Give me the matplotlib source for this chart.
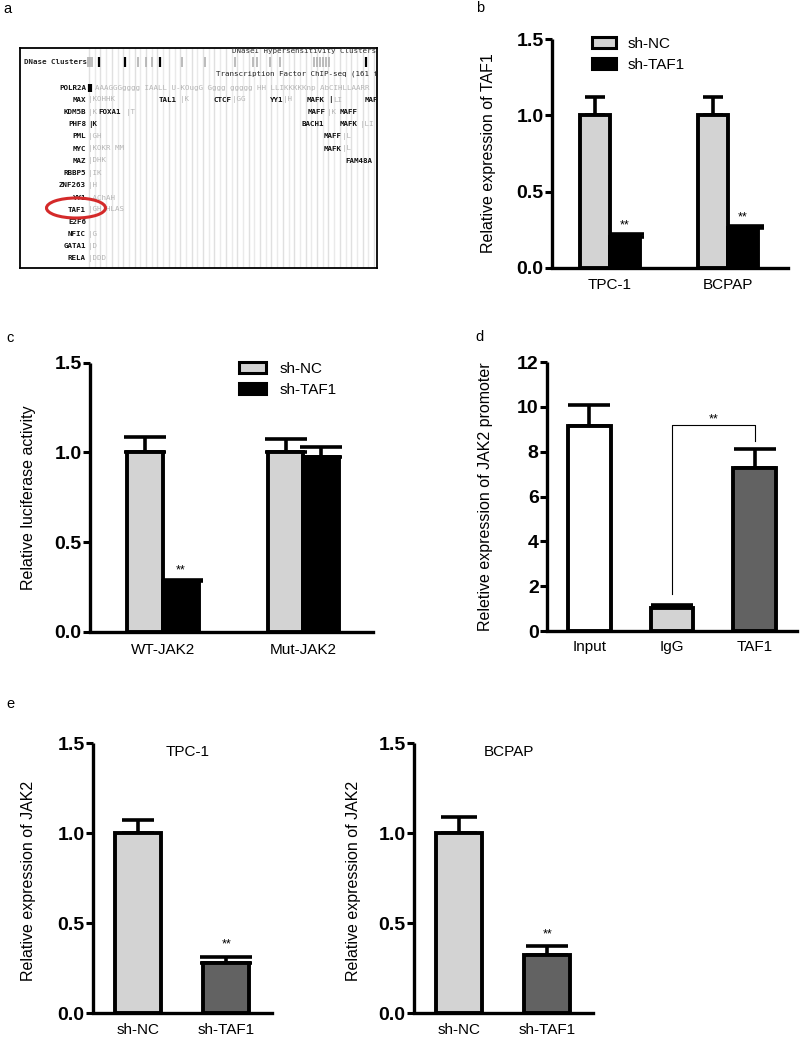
import numpy as np
import matplotlib
matplotlib.use("Agg")
import matplotlib.pyplot as plt
from matplotlib.patches import Ellipse, Patch

plt.rcParams['font.family'] = ['Liberation Sans', 'DejaVu Sans']

W, H = 800, 1038
fig = plt.figure(figsize=(W / 100, H / 100), dpi=100)

LIGHT = '#d3d3d3'
DARK = '#626262'

# ---------------- data ----------------
b_groups = ['TPC-1', 'BCPAP']
b_nc = [1.00, 1.00]
b_nc_err = [0.12, 0.12]
b_taf = [0.205, 0.26]
b_taf_err = [0.017, 0.016]

c_groups = ['WT-JAK2', 'Mut-JAK2']
c_nc = [1.00, 1.00]
c_nc_err = [0.085, 0.075]
c_taf = [0.28, 0.975]
c_taf_err = [0.008, 0.055]

d_cats = ['Input', 'IgG', 'TAF1']
d_vals = [9.15, 1.03, 7.27]
d_err = [0.92, 0.14, 0.86]

e_cats = ['sh-NC', 'sh-TAF1']
e_tpc = [1.00, 0.278]
e_tpc_err = [0.07, 0.033]
e_bcpap = [1.00, 0.324]
e_bcpap_err = [0.087, 0.046]

legend_labels = ['sh-NC', 'sh-TAF1']

# panel a (genome browser snapshot) text content
a_factors = ["POLR2A", "MAX", "KDM5B", "PHF8", "PML", "MYC", "MAZ", "RBBP5",
             "ZNF263", "YY1", "TAF1", "E2F6", "NFIC", "GATA1", "RELA", "ATF3"]
a_grey = ["", "|KOHHK", "|K", "", "|GH", "|KOKR MM", "|DHK", "|IK",
          "|H", " AChAH", "|GH HLAS", "", "|G", "|D", "|DDD", ""]
a_polr = "AAAGGGgggg IAALL U-KOugG Gggg ggggg HH LLIKKKKKnp AbCIHLLAARR"


def axpx(l, t, r, b):
    return fig.add_axes([l / W, 1 - b / H, (r - l) / W, (b - t) / H])


def style(ax, yticks, fmt, xt_pad, tl=14):
    for s in ['top', 'right']:
        ax.spines[s].set_visible(False)
    for s in ['left', 'bottom']:
        ax.spines[s].set_linewidth(2.4)
    ax.set_yticks(yticks)
    ax.set_yticklabels([fmt.format(v) for v in yticks], fontsize=tl, fontweight='bold')
    ax.tick_params(axis='y', length=5, width=2.2, pad=1)
    ax.tick_params(axis='x', length=0, pad=xt_pad)
    ax.set_ylim(yticks[0], yticks[-1])
    ax.spines['left'].set_bounds(yticks[0], yticks[-1])
    ax.spines['left'].set_capstyle('butt')


def bars(ax, x, vals, errs, color, width, caps):
    ax.bar(x, vals, width=width, color=color, edgecolor='black', linewidth=2.8, zorder=3)
    for xi, v, e, c in zip(x, vals, errs, caps):
        ax.errorbar([xi], [v], yerr=[[0], [e]], fmt='none', ecolor='black',
                    elinewidth=2.6, capsize=c, capthick=2.6, zorder=2)


def stars(ax, x, y, off):
    ax.annotate('**', xy=(x, y), xytext=(0, off), textcoords='offset points',
                ha='center', va='baseline', fontsize=9)


def panel_label(x, y, s):
    fig.text(x / W, 1 - y / H, s, fontsize=10.5, ha='center', va='center')


# ---------------- panel a ----------------
axa = axpx(20, 48, 377, 268)
axa.set_xlim(20, 377)
axa.set_ylim(268, 48)
axa.set_xticks([])
axa.set_yticks([])
for s in axa.spines.values():
    s.set_linewidth(1.3)
vx = np.arange(89, 377, 5.7)
axa.vlines(vx, 48, 268, colors=['#e0e0e0', '#eaeaea'] * (len(vx) // 2 + 1), linewidth=1.0, zorder=0)
mono = dict(family='DejaVu Sans Mono', fontsize=5.4)
axa.text(376, 51, "DNaseI Hypersensitivity Clusters", ha='right', va='center', color='#333333', **mono)
axa.text(24, 62, "DNase Clusters", ha='left', va='center', fontweight='bold', color='#222222', **mono)
dn_grey = [88, 90, 92, 138, 146, 152, 182, 205, 235, 253, 257, 270, 280, 314, 317, 320, 323, 326, 329]
dn_black = [99, 125, 160, 366]
axa.vlines(dn_grey, 57, 67, colors='#b0b0b0', linewidth=1.2)
axa.vlines(dn_black, 57, 67, colors='black', linewidth=1.6)
axa.text(216, 74, "Transcription Factor ChIP-seq (161 factors)", ha='left', va='center',
         color='#222222', clip_on=True, **mono)
row_y = 87.7 + 12.2 * np.arange(len(a_factors))
for name, g, y in zip(a_factors, a_grey, row_y):
    axa.text(86, y, name, ha='right', va='center', fontweight='bold', color='#111111', clip_on=True, **mono)
    if g:
        axa.text(88, y, g, ha='left', va='center', color='#b5b5b5', clip_on=True, **mono)
axa.vlines([89.5], row_y[0] - 4, row_y[0] + 4, colors='black', linewidth=3)
axa.text(95, row_y[0], a_polr, ha='left', va='center', color='#b5b5b5', clip_on=True, **mono)
extra = [
    (1, 177, "TAL1", 'r', True), (1, 180, "|K", 'l', False), (1, 213, "CTCF", 'l', True),
    (1, 232, "|GG", 'l', False), (1, 270, "YY1", 'l', True), (1, 283, "|H", 'l', False),
    (1, 307, "MAFK", 'l', True), (1, 328, "|", 'l', True), (1, 333, "LI", 'l', False),
    (1, 365, "MAF", 'l', True),
    (2, 98, "FOXA1", 'l', True), (2, 126, "|T", 'l', False), (2, 308, "MAFF", 'l', True),
    (2, 327, "|K", 'l', False), (2, 340, "MAFF", 'l', True),
    (3, 88, "|K", 'l', True), (3, 302, "BACH1", 'l', True), (3, 340, "MAFK", 'l', True),
    (3, 360, "|LI", 'l', False),
    (4, 324, "MAFF", 'l', True), (4, 342, "|L", 'l', False),
    (5, 324, "MAFK", 'l', True), (5, 342, "|L", 'l', False),
    (6, 345, "FAM48A", 'l', True),
]
for r, x, s, al, blk in extra:
    axa.text(x, row_y[r], s, ha='right' if al == 'r' else 'left', va='center',
             fontweight='bold' if blk else 'normal',
             color='#111111' if blk else '#b5b5b5', clip_on=True, **mono)
axa.add_patch(Ellipse((76, 208), 59, 20, fill=False, edgecolor='#d42a2a', linewidth=2.2, zorder=5))
panel_label(7, 9, 'a')

# ---------------- panel b ----------------
axb = axpx(552, 39, 788, 268)
xb = np.arange(len(b_groups))
wb = 0.254
bars(axb, xb - wb / 2, b_nc, b_nc_err, LIGHT, wb, [7, 7])
bars(axb, xb + wb / 2, b_taf, b_taf_err, 'black', wb, [14, 15])
axb.set_xlim(-0.492, 1.508)
style(axb, [0, 0.5, 1.0, 1.5], '{:.1f}', 7)
axb.set_xticks(xb)
axb.set_xticklabels(b_groups, fontsize=11)
axb.set_ylabel('Relative expression of TAF1', fontsize=11.5)
axb.yaxis.set_label_coords(-0.237, 0.5)
for xi, v, e in zip(xb + wb / 2, b_taf, b_taf_err):
    stars(axb, xi, v + e, 3.8)
hb = [Patch(facecolor=LIGHT, edgecolor='black', linewidth=2.2),
      Patch(facecolor='black', edgecolor='black', linewidth=2.2)]
axb.legend(hb, legend_labels, loc='upper left', bbox_to_anchor=(592 / W, 1 - 37 / H),
           bbox_transform=fig.transFigure, frameon=False, fontsize=11, borderpad=0,
           handlelength=1.6, handleheight=0.75, handletextpad=0.75, labelspacing=0.45,
           borderaxespad=0)
panel_label(480, 8, 'b')

# ---------------- panel c ----------------
axc = axpx(90, 362.7, 373, 631.7)
xc = np.arange(len(c_groups))
wc = 0.253
bars(axc, xc - wc / 2, c_nc, c_nc_err, LIGHT, wc, [15, 15])
bars(axc, xc + wc / 2, c_taf, c_taf_err, 'black', wc, [16, 15])
axc.set_xlim(-0.52, 1.495)
style(axc, [0, 0.5, 1.0, 1.5], '{:.1f}', 8)
axc.set_xticks(xc)
axc.set_xticklabels(c_groups, fontsize=11)
axc.set_ylabel('Relative luciferase activity', fontsize=11.5)
axc.yaxis.set_label_coords(-0.191, 0.5)
stars(axc, xc[0] + wc / 2, c_taf[0] + c_taf_err[0], 4.5)
hc = [Patch(facecolor=LIGHT, edgecolor='black', linewidth=2.2),
      Patch(facecolor='black', edgecolor='black', linewidth=2.2)]
axc.legend(hc, legend_labels, loc='upper left', bbox_to_anchor=(239 / W, 1 - 362 / H),
           bbox_transform=fig.transFigure, frameon=False, fontsize=11, borderpad=0,
           handlelength=1.75, handleheight=0.75, handletextpad=0.9, labelspacing=0.45,
           borderaxespad=0)
panel_label(10, 338, 'c')

# ---------------- panel d ----------------
axd = axpx(547, 362, 797, 631)
xd = np.arange(len(d_cats))
wd = 0.52
axd.bar(xd, d_vals, width=wd, color=['white', LIGHT, DARK], edgecolor='black', linewidth=2.8, zorder=3)
for xi, v, e in zip(xd, d_vals, d_err):
    axd.errorbar([xi], [v], yerr=[[0], [e]], fmt='none', ecolor='black',
                 elinewidth=2.6, capsize=15, capthick=2.6, zorder=2)
axd.set_xlim(-0.515, 2.515)
style(axd, [0, 2, 4, 6, 8, 10, 12], '{:d}', 6.5)
axd.set_xticks(xd)
axd.set_xticklabels(d_cats, fontsize=11)
axd.set_ylabel('Reletive expression of JAK2 promoter', fontsize=11.5)
axd.yaxis.set_label_coords(-0.216, 0.5)
axd.plot([1, 1, 2, 2], [1.67, 9.17, 9.17, 8.48], color='black', linewidth=0.8, zorder=4)
axd.annotate('**', xy=(1.5, 9.17), xytext=(0, 2.2), textcoords='offset points',
             ha='center', va='baseline', fontsize=9)
panel_label(479, 337, 'd')

# ---------------- panel e ----------------
for (l, r, vals, errs, title, lblx, caps, soff) in [
        (93, 272, e_tpc, e_tpc_err, 'TPC-1', -0.318, [11.5, 18.5], 7.0),
        (414, 593, e_bcpap, e_bcpap_err, 'BCPAP', -0.296, [13, 15], 6.5)]:
    ax = axpx(l, 743, r, 1013)
    xe = np.arange(len(e_cats))
    ax.bar(xe, vals, width=0.52, color=[LIGHT, DARK], edgecolor='black', linewidth=2.8, zorder=3)
    for xi, v, e, c in zip(xe, vals, errs, caps):
        ax.errorbar([xi], [v], yerr=[[0], [e]], fmt='none', ecolor='black',
                    elinewidth=2.6, capsize=c, capthick=2.6, zorder=2)
    ax.set_xlim(-0.51, 1.515)
    style(ax, [0, 0.5, 1.0, 1.5], '{:.1f}', 7)
    ax.set_xticks(xe)
    ax.set_xticklabels(e_cats, fontsize=11)
    ax.set_ylabel('Relative expression of JAK2', fontsize=11.5)
    ax.yaxis.set_label_coords(lblx, 0.49)
    ax.text(0.53, 0.965, title, transform=ax.transAxes, ha='center', va='center', fontsize=11)
    stars(ax, xe[1], vals[1] + errs[1], soff)
panel_label(10, 704, 'e')

fig.savefig('out.png', dpi=100)
